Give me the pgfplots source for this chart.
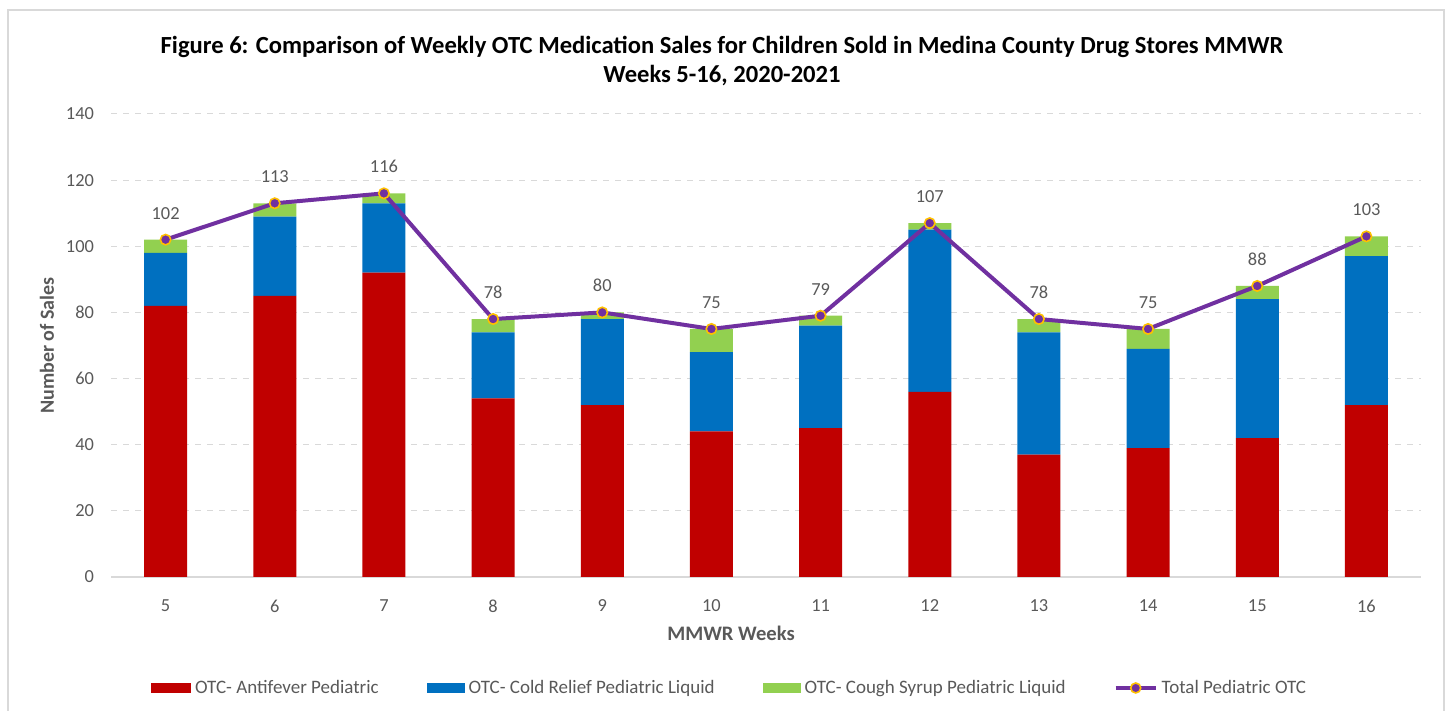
\documentclass[border=0pt]{standalone}
\usepackage{fontspec}
\setmainfont{Carlito}
\usepackage{pgfplots}
\pgfplotsset{compat=1.18}
\definecolor{cRed}{HTML}{C00000}
\definecolor{cBlue}{HTML}{0070C0}
\definecolor{cGreen}{HTML}{92D050}
\definecolor{cPurple}{HTML}{7030A0}
\definecolor{cGold}{HTML}{FFC000}
\definecolor{txt}{HTML}{595959}
\definecolor{gridc}{HTML}{D9D9D9}
\pgfplotstableread{
week anti cold cough total
5  82 16 4 102
6  85 24 4 113
7  92 21 3 116
8  54 20 4 78
9  52 26 2 80
10 44 24 7 75
11 45 31 3 79
12 56 49 2 107
13 37 37 4 78
14 39 30 6 75
15 42 42 4 88
16 52 45 6 103
}\datatable
\pgfplotsset{
  base/.style={
    scale only axis, width=655pt, height=231.5pt,
    at={(55.5pt,67pt)}, anchor=south west,
    xmin=4.5, xmax=16.5, ymin=0, ymax=140,
    xtick={5,...,16}, ytick={0,20,...,140},
    major tick length=0pt,
    tick label style={font=\fontsize{9.2}{11}\selectfont, text=txt},
    /pgf/number format/assume math mode=true,
  }
}
\begin{document}
\begin{tikzpicture}
\useasboundingbox (0,0) rectangle (723.5pt,355.5pt);
\draw[gridc, line width=0.8pt] (4pt,0pt) -- (4pt,350.5pt) -- (722pt,350.5pt) -- (722pt,0pt);
\begin{axis}[base,
  ybar stacked, bar width=21.5pt,
  axis x line*=bottom, axis y line*=left,
  y axis line style={draw=none},
  x axis line style={draw=gridc, line width=0.8pt},
  ymajorgrids, xmajorgrids=false,
  grid style={draw=gridc, dashed, line width=0.5pt},
  xticklabel style={yshift=-8pt},
  yticklabel style={xshift=-5pt},
  xlabel={\textbf{MMWR Weeks}},
  xlabel style={font=\fontsize{10.3}{12}\selectfont, text=txt, at={(axis description cs:0.4733,-0.1210)}, anchor=center},
  ylabel={\textbf{Number of Sales}},
  ylabel style={font=\fontsize{10}{12}\selectfont, text=txt, at={(axis description cs:-0.0489,0.5)}, anchor=center},
  legend style={draw=none, fill=none, at={(0.473,-0.2397)}, anchor=center,
    font=\fontsize{9.5}{11}\selectfont, text=txt, legend columns=4,
    /tikz/every even column/.append style={column sep=22pt}},
  legend cell align=left,
]
\addplot[fill=cRed, draw=none, legend image code/.code={\fill[cRed] (0pt,-2.5pt) rectangle (20pt,2.5pt);}] table[x=week, y=anti] {\datatable};
\addlegendentry{OTC- Antifever Pediatric}
\addplot[fill=cBlue, draw=none, legend image code/.code={\fill[cBlue] (0pt,-2.5pt) rectangle (19pt,2.5pt);}] table[x=week, y=cold] {\datatable};
\addlegendentry{OTC- Cold Relief Pediatric Liquid}
\addplot[fill=cGreen, draw=none, legend image code/.code={\fill[cGreen] (0pt,-2.5pt) rectangle (19pt,2.5pt);}] table[x=week, y=cough] {\datatable};
\addlegendentry{OTC- Cough Syrup Pediatric Liquid}
\addlegendimage{legend image code/.code={
  \draw[cPurple, line width=2pt] (0pt,0pt) -- (20pt,0pt);
  \filldraw[fill=cPurple, draw=cGold, line width=0.8pt] (10pt,0pt) circle (2.5pt);}}
\addlegendentry{Total Pediatric OTC}
\end{axis}
\begin{axis}[base, axis lines=none,
  nodes near coords,
  every node near coord/.append style={font=\fontsize{9.2}{11}\selectfont, text=txt, anchor=south, yshift=6.5pt},
]
\addplot[cPurple, line width=2pt, mark=*, mark size=2.6pt,
  mark options={fill=cPurple, draw=cGold, line width=0.8pt}] table[x=week, y=total] {\datatable};
\end{axis}
\node[font=\bfseries\fontsize{12.3}{14.5}\selectfont, align=center, text=black] at (361pt,325pt)
  {Figure 6: Comparison of Weekly OTC Medication Sales for Children Sold in Medina County Drug Stores MMWR\\Weeks 5-16, 2020-2021};
\end{tikzpicture}
\end{document}
